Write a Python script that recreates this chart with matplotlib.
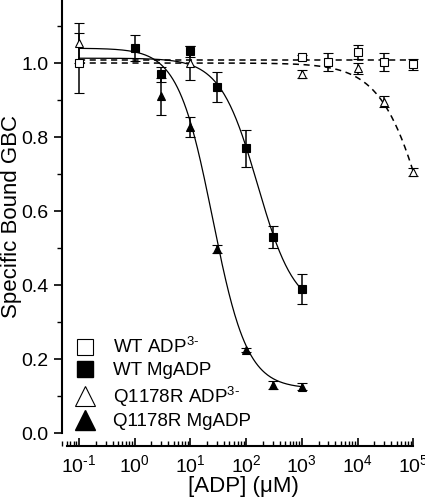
import numpy as np
import matplotlib
matplotlib.use("Agg")
import matplotlib.pyplot as plt
from matplotlib.lines import Line2D
from matplotlib.ticker import LogLocator, MultipleLocator, NullFormatter

plt.rcParams['font.family'] = ['Liberation Sans', 'DejaVu Sans']
plt.rcParams['mathtext.fontset'] = 'custom'
plt.rcParams['mathtext.rm'] = 'Liberation Sans'

# measured points
wt_adp_x = [0.1, 1000, 3000, 10000, 30000, 100000]
wt_adp_y = [1.0, 1.016, 1.003, 1.03, 1.003, 0.997]
wt_adp_e = [0.08, 0.005, 0.025, 0.02, 0.025, 0.015]

wt_mg_x = [1, 3, 10, 30, 100, 300, 1000]
wt_mg_y = [1.04, 0.97, 1.032, 0.935, 0.77, 0.53, 0.39]
wt_mg_e = [0.035, 0.02, 0.015, 0.04, 0.05, 0.03, 0.04]

q_adp_x = [0.1, 10, 1000, 10000, 30000, 100000]
q_adp_y = [1.054, 1.0, 0.97, 0.986, 0.895, 0.705]
q_adp_e = [0.054, 0.045, 0.01, 0.015, 0.015, 0.01]

q_mg_x = [3, 10, 30, 100, 300, 1000]
q_mg_y = [0.91, 0.827, 0.497, 0.225, 0.13, 0.125]
q_mg_e = [0.05, 0.027, 0.01, 0.005, 0.01, 0.01]

# fit parameters (top, bottom, IC50, hill)
wt_adp_fit = (1.008, 1.008, 1e9, 1.0)
wt_mg_fit = (1.013, 0.33, 160, 1.3)
q_adp_fit = (1.0, 0.0, 2.4e5, 1.0)
q_mg_fit = (1.04, 0.12, 25, 1.4)

x_exps = [-1, 0, 1, 2, 3, 4, 5]
y_ticks = [0.0, 0.2, 0.4, 0.6, 0.8, 1.0]


def hill(x, p):
    top, bot, ic50, h = p
    return bot + (top - bot) / (1 + (x / ic50) ** h)


fig = plt.figure(figsize=(4.25, 5), dpi=100)
ax = fig.add_axes([62 / 425, 67 / 500, 1 - 62 / 425, 1 - 67 / 500])

xs = np.logspace(-1, 5, 400)
xs3 = np.logspace(-1, 3, 300)
ax.plot(xs, hill(xs, wt_adp_fit), color='black', lw=1.1, ls=(0, (4, 3)), zorder=2)
ax.plot(xs, hill(xs, q_adp_fit), color='black', lw=1.1, ls=(0, (4, 3)), zorder=2)
ax.plot(xs3, hill(xs3, wt_mg_fit), color='black', lw=0.9, zorder=2)
ax.plot(xs3, hill(xs3, q_mg_fit), color='black', lw=0.9, zorder=2)

eb = dict(color='black', ecolor='black', elinewidth=1.1, capsize=3.5, capthick=1.1,
          ls='none', markersize=6, markeredgewidth=0.8, zorder=3)
ax.errorbar(wt_adp_x, wt_adp_y, yerr=wt_adp_e, marker='s', mfc='white', mec='black', **eb)
ax.errorbar(wt_mg_x, wt_mg_y, yerr=wt_mg_e, marker='s', mfc='black', mec='black', **eb)
ax.errorbar(q_adp_x, q_adp_y, yerr=q_adp_e, marker='^', mfc='white', mec='black', **eb)
ax.errorbar(q_mg_x, q_mg_y, yerr=q_mg_e, marker='^', mfc='black', mec='black', **eb)

ax.set_xscale('log')
ax.set_xlim(10 ** -1.305, 10 ** 5.21)
ax.set_ylim(0, 433 / 370)

for s in ['top', 'right']:
    ax.spines[s].set_visible(False)
ax.spines['left'].set_linewidth(1.5)
ax.spines['bottom'].set_linewidth(1.5)
ax.spines['bottom'].set_position(('outward', 9))
ax.spines['bottom'].set_bounds(10 ** -1.215, 1e5)
ax.spines['left'].set_bounds(0, 433 / 370)

ax.yaxis.set_minor_locator(MultipleLocator(0.1))
ax.set_yticks(y_ticks)
ax.set_yticklabels(['%.1f' % v for v in y_ticks])
ax.xaxis.set_minor_locator(LogLocator(base=10, subs=np.arange(2, 10), numticks=12))
ax.xaxis.set_minor_formatter(NullFormatter())
ax.set_xticks([10.0 ** k for k in x_exps])
ax.set_xticklabels([r'$\mathregular{10^{\text{%d}}}$' % k for k in x_exps])

ax.tick_params(axis='y', which='major', direction='out', length=6, width=1.2, labelsize=14)
ax.tick_params(axis='y', which='minor', direction='out', length=3.5, width=1.0)
ax.tick_params(axis='x', which='major', direction='in', length=6, width=1.2, labelsize=14, pad=6)
ax.tick_params(axis='x', which='minor', direction='in', length=3.5, width=1.0)

ax.set_ylabel('Specific Bound GBC', fontsize=16, labelpad=0)
ax.set_xlabel('[ADP] (μM)', fontsize=16, labelpad=0)

handles = [
    Line2D([], [], ls='none', marker='s', mfc='white', mec='black', markersize=12, markeredgewidth=0.8),
    Line2D([], [], ls='none', marker='s', mfc='black', mec='black', markersize=12),
    Line2D([], [], ls='none', marker='^', mfc='white', mec='black', markersize=14, markeredgewidth=0.8),
    Line2D([], [], ls='none', marker='^', mfc='black', mec='black', markersize=14),
]
labels = [r'WT ADP$^{\text{3-}}$', 'WT MgADP', r'Q1178R ADP$^{\text{3-}}$', 'Q1178R MgADP']
ax.legend(handles, labels, loc='lower left', bbox_to_anchor=(0.0, -0.02), frameon=False,
          fontsize=13.5, handlelength=1.3, handletextpad=0.8, labelspacing=0.25,
          borderaxespad=0.2)

fig.savefig('out.png', dpi=100)
